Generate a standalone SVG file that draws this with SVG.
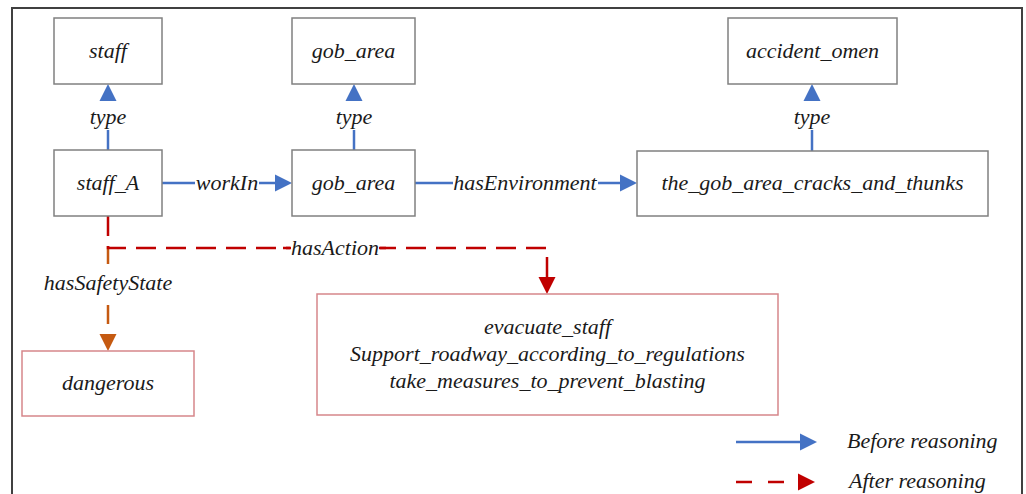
<svg xmlns="http://www.w3.org/2000/svg" xmlns:xlink="http://www.w3.org/1999/xlink" width="1026" height="494" viewBox="0 0 1026 494">
  <style>
    text { font-family: "Liberation Serif", "Times New Roman", serif; font-style: italic; font-size: 22px; fill: #1a1a1a; text-anchor: middle; }
    .box { fill: #ffffff; stroke: #808080; stroke-width: 1.5; }
    .box-red { fill: #ffffff; stroke: #d6868a; stroke-width: 1.5; }
    .blue { fill: none; stroke: #4472c4; stroke-width: 2.5; }
    .red { fill: none; stroke: #c00000; stroke-width: 2.5; stroke-dasharray: 20 10; }
    .red-solid { fill: none; stroke: #c00000; stroke-width: 2.5; }
    .orange { fill: none; stroke: #c55a11; stroke-width: 2.5; }
    .frame { fill: none; stroke: #404040; stroke-width: 2; }
  </style>
  <defs>
    <!-- arrowheads point along +x with the tip at the origin -->
    <path id="head-blue" d="M0,0 L-17,-8.5 L-17,8.5 Z" fill="#4472c4"/>
    <path id="head-red" d="M0,0 L-17,-8.5 L-17,8.5 Z" fill="#c00000"/>
    <path id="head-orange" d="M0,0 L-17,-8.5 L-17,8.5 Z" fill="#c55a11"/>
  </defs>

  <rect width="1026" height="494" fill="#ffffff"/>
  <path class="frame" d="M12,494 V8 H1022 V494"/>

  <!-- connectors -->
  <g id="connectors">
    <!-- staff_A type staff -->
    <path class="blue" d="M108,150 V130"/>
    <use xlink:href="#head-blue" transform="translate(108,84) rotate(-90)"/>
    <text x="108" y="124">type</text>

    <!-- gob_area type gob_area -->
    <path class="blue" d="M354,150 V130"/>
    <use xlink:href="#head-blue" transform="translate(354,84) rotate(-90)"/>
    <text x="354" y="124">type</text>

    <!-- the_gob_area_cracks_and_thunks type accident_omen -->
    <path class="blue" d="M812,151 V130"/>
    <use xlink:href="#head-blue" transform="translate(812,84) rotate(-90)"/>
    <text x="812" y="124">type</text>

    <!-- workIn -->
    <path class="blue" d="M162,183 H195 M259,183 H277"/>
    <use xlink:href="#head-blue" transform="translate(292,183)"/>
    <text x="227" y="190">workIn</text>

    <!-- hasEnvironment -->
    <path class="blue" d="M415,183 H453 M598,183 H622"/>
    <use xlink:href="#head-blue" transform="translate(637,183)"/>
    <text x="525" y="190">hasEnvironment</text>

    <!-- hasSafetyState (inferred) -->
    <path class="orange" d="M108,246 V264 M108,305 V324"/>
    <use xlink:href="#head-orange" transform="translate(108,351) rotate(90)"/>
    <text x="108" y="290">hasSafetyState</text>

    <!-- hasAction (inferred) -->
    <path class="red" d="M108,216 V248 H547 V278"/>
    <use xlink:href="#head-red" transform="translate(547,294) rotate(90)"/>
    <rect x="290" y="236" width="90" height="24" fill="#ffffff"/>
    <path class="red-solid" d="M283,248 H291 M379,248 H386"/>
    <text x="335" y="255">hasAction</text>
  </g>

  <!-- nodes -->
  <g id="node-staff">
    <rect class="box" x="54" y="18" width="108" height="66"/>
    <text x="108" y="58">staff</text>
  </g>
  <g id="node-gob-area-class">
    <rect class="box" x="292" y="18" width="123" height="66"/>
    <text x="353.5" y="58">gob_area</text>
  </g>
  <g id="node-accident-omen">
    <rect class="box" x="728" y="18" width="169" height="66"/>
    <text x="812.5" y="58">accident_omen</text>
  </g>
  <g id="node-staff-a">
    <rect class="box" x="54" y="150" width="108" height="66"/>
    <text x="108" y="190">staff_A</text>
  </g>
  <g id="node-gob-area">
    <rect class="box" x="292" y="150" width="123" height="66"/>
    <text x="353.5" y="190">gob_area</text>
  </g>
  <g id="node-cracks">
    <rect class="box" x="637" y="151" width="351" height="65"/>
    <text x="812.5" y="190">the_gob_area_cracks_and_thunks</text>
  </g>
  <g id="node-dangerous">
    <rect class="box-red" x="22" y="351" width="172" height="65"/>
    <text x="108" y="390">dangerous</text>
  </g>
  <g id="node-actions">
    <rect class="box-red" x="317" y="294" width="461" height="121"/>
    <text x="547.5" y="334">evacuate_staff</text>
    <text x="547.5" y="361">Support_roadway_according_to_regulations</text>
    <text x="547.5" y="388">take_measures_to_prevent_blasting</text>
  </g>

  <!-- legend -->
  <g id="legend">
    <path class="blue" d="M736,442 H802"/>
    <use xlink:href="#head-blue" transform="translate(817,442)"/>
    <text x="847" y="448" style="text-anchor:start">Before reasoning</text>
    <path class="red-solid" d="M736,482 H752 M768,482 H784"/>
    <use xlink:href="#head-red" transform="translate(815,482)"/>
    <text x="849" y="488" style="text-anchor:start">After reasoning</text>
  </g>
</svg>
